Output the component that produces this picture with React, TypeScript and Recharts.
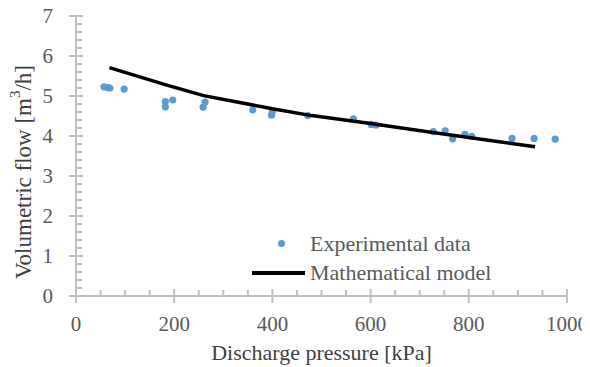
import { ComposedChart, Scatter, XAxis, YAxis, Label } from 'recharts';

const expPressure = [57, 65, 69, 98, 182, 182, 197, 259, 263, 360, 398, 400, 472, 565, 601, 611, 728, 752, 767, 792, 806, 888, 933, 976];
const expFlow = [5.23, 5.21, 5.2, 5.17, 4.86, 4.73, 4.9, 4.72, 4.85, 4.65, 4.52, 4.62, 4.51, 4.43, 4.29, 4.27, 4.11, 4.13, 3.93, 4.04, 3.99, 3.94, 3.94, 3.92];

const modelPressure = [68, 185, 260, 400, 480, 600, 730, 800, 935];
const modelFlow = [5.71, 5.27, 5.01, 4.68, 4.51, 4.31, 4.08, 3.96, 3.73];

const xMajor = [0, 200, 400, 600, 800, 1000];
const yMajor = [0, 1, 2, 3, 4, 5, 6, 7];

const xTicks = Array.from({ length: 21 }, (_, i) => i * 50);
const yTicks = Array.from({ length: 36 }, (_, i) => Math.round(i * 2) / 10);

const expData = expPressure.map((x, i) => ({ x, y: expFlow[i] }));
const modelData = modelPressure.map((x, i) => ({ x, y: modelFlow[i] }));

const axisColor = '#bfbfbf';
const tickColor = '#595959';
const font = "'Liberation Serif', 'Times New Roman', Tinos, 'DejaVu Serif', serif";

const XTick = ({ x, y, payload }: any) => {
  const v = payload.value;
  if (xMajor.includes(v)) {
    return (
      <g>
        <line x1={x} x2={x} y1={y - 7} y2={y + 7} stroke={axisColor} strokeWidth={2} />
        <text x={x} y={y + 35} textAnchor="middle" fill={tickColor} fontFamily={font} fontSize={21}>{v}</text>
      </g>
    );
  }
  return <line x1={x} x2={x} y1={y} y2={y - 6} stroke={axisColor} strokeWidth={2} />;
};

const YTick = ({ x, y, payload }: any) => {
  const v = payload.value;
  if (yMajor.includes(v)) {
    return (
      <g>
        <line x1={x - 7} x2={x + 7} y1={y} y2={y} stroke={axisColor} strokeWidth={2} />
        <text x={x - 23} y={y + 7} textAnchor="end" fill={tickColor} fontFamily={font} fontSize={21}>{v}</text>
      </g>
    );
  }
  return <line x1={x} x2={x + 6} y1={y} y2={y} stroke={axisColor} strokeWidth={2} />;
};

const YTitle = ({ viewBox }: any) => {
  const cy = viewBox.y + viewBox.height / 2 + 16;
  const cx = 15;
  return (
    <text x={cx} y={cy} transform={`rotate(-90, ${cx}, ${cy})`} textAnchor="middle" dominantBaseline="central" fill="#404040" fontFamily={font} fontSize={23}>
      Volumetric flow [m<tspan dy={-8} fontSize={15}>3</tspan><tspan dy={8}>/h]</tspan>
    </text>
  );
};

const LegendBox = () => (
  <div style={{ position: 'absolute', left: 244, top: 221, fontFamily: font, fontSize: 22, color: tickColor, whiteSpace: 'nowrap' }}>
    <div style={{ display: 'flex', alignItems: 'center', height: 29 }}>
      <div style={{ width: 58, display: 'flex', justifyContent: 'center' }}>
        <div style={{ width: 7, height: 7, borderRadius: 4, background: '#5b9bd5' }} />
      </div>
      <span>Experimental data</span>
    </div>
    <div style={{ display: 'flex', alignItems: 'center', height: 29 }}>
      <div style={{ width: 53, height: 4, background: '#000', marginRight: 5 }} />
      <span>Mathematical model</span>
    </div>
  </div>
);

export default function App() {
  return (
    <div style={{ position: 'relative', width: 582, height: 359, fontFamily: font }}>
      <ComposedChart width={582} height={359} margin={{ top: 8, right: 23, bottom: 0, left: 0 }}>
        <XAxis
          type="number"
          dataKey="x"
          domain={[0, 1000]}
          ticks={xTicks}
          interval={0}
          tick={<XTick />}
          tickLine={false}
          tickSize={0}
          tickMargin={0}
          axisLine={{ stroke: axisColor, strokeWidth: 2 }}
          height={71}
        >
          <Label value="Discharge pressure [kPa]" position="insideBottom" offset={7} fill="#404040" fontFamily={font} fontSize={22} />
        </XAxis>
        <YAxis
          type="number"
          dataKey="y"
          domain={[0, 7]}
          ticks={yTicks}
          interval={0}
          tick={<YTick />}
          tickLine={false}
          tickSize={0}
          tickMargin={0}
          axisLine={{ stroke: axisColor, strokeWidth: 2 }}
          width={68}
        >
          <Label content={<YTitle />} />
        </YAxis>
        <Scatter data={expData} fill="#5b9bd5" isAnimationActive={false} shape={(p: any) => <circle cx={p.cx} cy={p.cy} r={3.6} fill="#5b9bd5" />} />
        <Scatter data={modelData} line={{ stroke: '#000', strokeWidth: 3.5 }} lineType="joint" isAnimationActive={false} shape={() => <g />} />
      </ComposedChart>
      <LegendBox />
    </div>
  );
}
